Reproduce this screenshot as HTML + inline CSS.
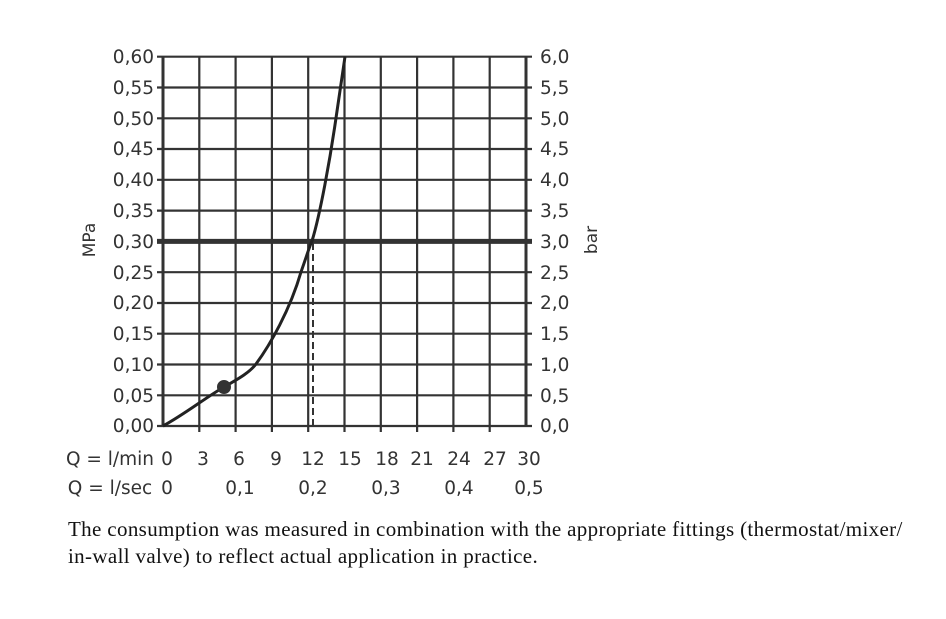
<!DOCTYPE html>
<html><head><style>
body{margin:0;background:#fff;width:946px;height:619px;overflow:hidden}
svg text{font-family:"DejaVu Sans","Liberation Sans",sans-serif;fill:#333}
p{position:absolute;left:68px;margin:0;font-family:"Liberation Serif",serif;font-size:21px;letter-spacing:0.35px;color:#111;line-height:26px;white-space:nowrap}
</style></head><body>
<svg width="946" height="619" style="position:absolute;left:0;top:0">
<g stroke="#333" stroke-width="2.2" fill="none">
<path d="M163,56.7V426M199.3,56.7V432M235.6,56.7V432M271.9,56.7V432M308.2,56.7V432M344.5,56.7V432M380.8,56.7V432M417.1,56.7V432M453.4,56.7V432M489.7,56.7V432M526,56.7V426"/>
<path d="M157,56.7H532M157,87.5H532M157,118.3H532M157,149H532M157,179.8H532M157,210.6H532M157,272.2H532M157,303H532M157,333.7H532M157,364.5H532M157,395.3H532M157,426H532"/>
<path d="M163,56.7V426M526,56.7V426" stroke-width="3"/>
</g>
<path d="M157,241.4H532" stroke="#333" stroke-width="5"/>
<path d="M313,243V426" stroke="#333" stroke-width="2" stroke-dasharray="7,4"/>
<path d="M163,426 C185,414 205,398 224,387 C240,378 250,372 256,364 C270,345 290,310 301,272 C307,255 310,245 312,241 C320,215 330,160 336,118 C340,90 343,70 345,56.7" stroke="#222" stroke-width="3" fill="none"/>
<circle cx="224" cy="387" r="7" fill="#333"/>
<g font-size="18.5" text-anchor="end">
<text x="154" y="63">0,60</text><text x="154" y="94">0,55</text><text x="154" y="125">0,50</text><text x="154" y="155">0,45</text><text x="154" y="186">0,40</text><text x="154" y="217">0,35</text><text x="154" y="248">0,30</text><text x="154" y="279">0,25</text><text x="154" y="309">0,20</text><text x="154" y="340">0,15</text><text x="154" y="371">0,10</text><text x="154" y="402">0,05</text><text x="154" y="432">0,00</text>
</g>
<g font-size="18.5">
<text x="540" y="63">6,0</text><text x="540" y="94">5,5</text><text x="540" y="125">5,0</text><text x="540" y="155">4,5</text><text x="540" y="186">4,0</text><text x="540" y="217">3,5</text><text x="540" y="248">3,0</text><text x="540" y="279">2,5</text><text x="540" y="309">2,0</text><text x="540" y="340">1,5</text><text x="540" y="371">1,0</text><text x="540" y="402">0,5</text><text x="540" y="432">0,0</text>
</g>
<text font-size="17" transform="translate(95,240) rotate(-90)" text-anchor="middle">MPa</text>
<text font-size="17" transform="translate(597,240) rotate(-90)" text-anchor="middle">bar</text>
<g font-size="18.5" text-anchor="middle">
<text x="110" y="465">Q = l/min</text>
<text x="167" y="465">0</text><text x="203" y="465">3</text><text x="239" y="465">6</text><text x="276" y="465">9</text><text x="313" y="465">12</text><text x="350" y="465">15</text><text x="387" y="465">18</text><text x="422" y="465">21</text><text x="459" y="465">24</text><text x="495" y="465">27</text><text x="529" y="465">30</text>
<text x="110" y="494">Q = l/sec</text>
<text x="167" y="494">0</text><text x="240" y="494">0,1</text><text x="313" y="494">0,2</text><text x="386" y="494">0,3</text><text x="459" y="494">0,4</text><text x="529" y="494">0,5</text>
</g>
</svg>
<p style="top:516px">The consumption was measured in combination with the appropriate fittings (thermostat/mixer/</p>
<p style="top:543px">in-wall valve) to reflect actual application in practice.</p>
</body></html>
